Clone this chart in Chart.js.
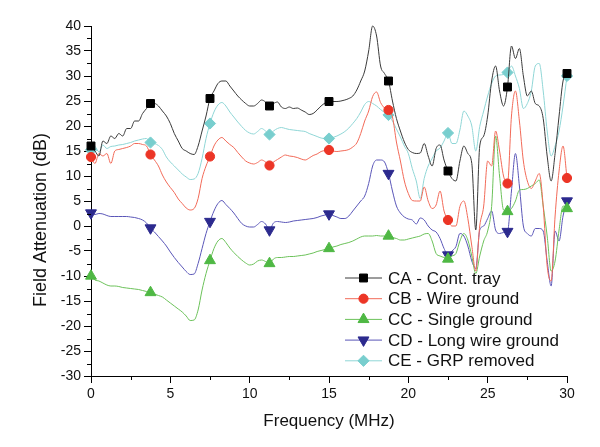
<!DOCTYPE html>
<html>
<head>
<meta charset="utf-8">
<script src="https://cdn.jsdelivr.net/npm/chart.js"></script>
<style>
  html, body { margin: 0; padding: 0; background: #fff; }
  canvas { display: block; }
</style>
</head>
<body>
<canvas id="chart" width="600" height="447"></canvas>
<script>
// frequency axis (MHz), one reading every 0.25 MHz
const freq = [
  0, 0.25, 0.5, 0.75, 1, 1.25, 1.5, 1.75, 2, 2.25,
  2.5, 2.75, 3, 3.25, 3.5, 3.75, 4, 4.25, 4.5, 4.75,
  5, 5.25, 5.5, 5.75, 6, 6.25, 6.5, 6.75, 7, 7.25,
  7.5, 7.75, 8, 8.25, 8.5, 8.75, 9, 9.25, 9.5, 9.75,
  10, 10.25, 10.5, 10.75, 11, 11.25, 11.5, 11.75, 12, 12.25,
  12.5, 12.75, 13, 13.25, 13.5, 13.75, 14, 14.25, 14.5, 14.75,
  15, 15.25, 15.5, 15.75, 16, 16.25, 16.5, 16.75, 17, 17.25,
  17.5, 17.75, 18, 18.25, 18.5, 18.75, 19, 19.25, 19.5, 19.75,
  20, 20.25, 20.5, 20.75, 21, 21.25, 21.5, 21.75, 22, 22.25,
  22.5, 22.75, 23, 23.25, 23.5, 23.75, 24, 24.25, 24.5, 24.75,
  25, 25.25, 25.5, 25.75, 26, 26.25, 26.5, 26.75, 27, 27.25,
  27.5, 27.75, 28, 28.25, 28.5, 28.75, 29, 29.25, 29.5, 29.75,
  30
];

// field attenuation (dB) per configuration
const caTray = [
  16, 15, 14, 17, 16.5, 18, 17.5, 18.5, 18, 19.5,
  19.5, 21, 21, 22.5, 23.5, 24.5, 24.5, 24, 23, 22,
  20.5, 18.5, 17, 15.5, 15, 14.5, 14.3, 16, 19, 22,
  25.5, 27, 28.5, 29, 29, 28, 27, 26, 25.2, 24.5,
  24, 24, 24.5, 25.2, 24.8, 24, 24.5, 24.8, 23.8, 23.5,
  23.8, 23.5, 23.6, 23.2, 22.8, 22.3, 22.5, 23.2, 24, 24.6,
  24.9, 24.9, 24.9, 25, 25.2, 25.5, 26, 27.2, 29, 31,
  35, 40, 38, 32, 30.5, 29, 25, 21.5, 19, 16.8,
  15.3, 14.7, 14.5, 14.6, 16.5, 14, 12, 15.5, 16.2, 13.2,
  11, 9.5, 9, 13, 16, 14.5, 12.5, -0.8, 16, 18,
  22, 29, 32, 27, 24, 27.8, 36, 33.5, 35.5, 30,
  26, 27, 24.5, 24, 21.5, 14, 9, 14.5, 22, 29,
  30.5
];
const cbWire = [
  13.8, 12.5, 14.5, 14, 14.5, 12.5, 15, 15.3, 15.5, 15.7,
  16, 16.5, 16.5, 16.3, 16, 14.3, 13.2, 12, 10.2, 8.8,
  7.7, 6.7, 5.4, 4.5, 3.6, 3.2, 3.5, 5.5, 9.5, 12,
  13.9, 16, 17.2, 17.7, 17, 16.3, 15.7, 14.7, 13.8, 13,
  12.6, 12.4, 12.7, 13.2, 12.8, 12.1, 12.8, 13.3, 13.8, 14.2,
  14, 13.9, 13.7, 13.4, 13.2, 13.6, 14.1, 14.4, 14.9, 15.1,
  15.2, 15, 14.9, 15, 15.1, 15.3, 15.8, 16.6, 18.5, 21,
  23, 25.9, 26.8, 24.7, 23.6, 23.2, 21.8, 16.8, 13, 9,
  6.5, 5.1, 5, 5, 7.8, 5, 3.5, 4.2, 7, 3,
  1.2, 0, 0, 3.9, 5, 1.5, -4, -9, 0, 4,
  13, 12, 19, 15, 10, 8.5, 22, 27, 21, 13,
  9, 7.5, 9, 10.5, 4, -8, -11, 2, 11, 16,
  9.6
];
const ccSingle = [
  -10, -10.8, -11, -11.4, -11.8, -12, -12, -12.1, -12.3, -12.4,
  -12.5, -12.6, -12.7, -12.9, -13.1, -13.3, -13.6, -13.9, -14.2, -14.8,
  -15.4, -16, -16.6, -17.2, -18, -18.9, -18.8, -16.8, -12.8, -9.5,
  -6.9, -4.5, -3, -2.5, -3.3, -4.4, -5.3, -6.1, -6.8, -7.4,
  -7.8, -7.6, -7, -6.8, -7.1, -7.5, -6.6, -6.3, -6.3, -6.2,
  -6.1, -6.1, -6, -5.9, -5.8, -5.6, -5.4, -5.1, -4.9, -4.7,
  -4.5, -4.2, -4, -3.7, -3.5, -3.3, -3, -2.6, -2.2, -2,
  -2, -2, -1.9, -2, -2, -2, -2.3, -2.5, -2.8, -2.8,
  -2.6, -2.4, -2.2, -2, -1.6, -1.5, -3, -5.5, -6, -6.3,
  -6.6, -6, -5.5, -3, -1.5, -2.8, -6, -9.5, -6, -3,
  -1, 3.9, 18, 10, 3.2, 2.9, 3.5, 5, 7.2, 7.3,
  7.5, 8, 8.5, 9.2, 4, -2, -9, -7, -0.8, 4,
  3.5
];
const cdLongWire = [
  2.6, 2.3, 2.5, 2.4, 2.1, 1.9, 1.9, 1.9, 1.9, 1.9,
  1.8, 1.7, 1.5, 1.2, 0.6, -0.4, -1.2, -2.1, -3, -4,
  -5.2, -6.3, -7.3, -8.2, -9.1, -9.7, -9.6, -7.5, -4.5, -1.5,
  0.9, 3, 4.5, 5.1, 4.3, 3.5, 2.6, 1.5, 0.5, 0,
  -0.2, -0.2, 0.3, 0.9, 0.4, -0.8, 0.6, 0.9, 0.8, 0.7,
  0.8, 1, 1.1, 1.2, 1.3, 1.4, 1.5, 1.7, 2, 2.2,
  2.4, 2.1, 1.8, 1.5, 1.5, 2, 3, 4, 5, 6,
  8.5, 12, 13.2, 13.2, 12.8, 10.5, 7, 4, 2.6, 1.8,
  1.4, 1.2, 0.4, 1.6, 1.2, 0, -0.8, -1.2, -2.5, -4.5,
  -5.8, -5, -4.1, -1.5, -2, -4, -7, -8.5, -0.8, 0,
  1.5, 3, -0.8, -1.5, -1.3, -1.1, 7, 14.5, 8, 0,
  -1.5, -2, -0.5, -0.5, -1, -7, -12, -1, -3, 2,
  5
];
const ceGrpRemoved = [
  15.2, 15.9, 14.8, 16.2, 15.5, 15.9, 16, 16.2, 16.3, 16.5,
  16.7, 17, 17.2, 17.4, 17.5, 16.7, 16.5, 16.1, 15.3, 13.8,
  12.8, 12, 11.2, 10.4, 9.8, 9.3, 9.4, 10.5, 13.5, 17.5,
  20.5, 22.8, 24.2, 24.7, 24, 22.8, 21.8, 20.8, 19.9, 19.1,
  18.6, 18.4, 18.9, 19.5, 19, 18.3, 19, 19.5, 19.7, 19.5,
  19.3, 19.2, 19.1, 19, 18.9, 18.5, 18.2, 17.9, 17.6, 17.5,
  17.5, 17.7, 18, 18.4, 18.9, 19.6, 20.5, 21.5, 22.8, 24.3,
  24.9, 24.5, 24, 23.3, 22.7, 22.2, 21, 19.4, 17.8, 16,
  14.5, 11.5, 9, 5.5, 9.5, 12, 13.5, 15, 15.6, 17,
  18.6, 16.5, 16.5, 19.2, 23, 22, 20, 15, 19.9, 23,
  26, 28.5, 30, 30.2, 30.3, 30.7, 32, 30, 27.5, 23.5,
  24.5, 27, 32, 32.5, 27, 19, 14, 16, 19, 24,
  30
];

const seriesNames = ['CA - Cont. tray', 'CB - Wire ground', 'CC - Single ground', 'CD - Long wire ground', 'CE - GRP removed'];

const FONT = '"Liberation Sans", Arial, sans-serif';
Chart.defaults.font.family = FONT;
Chart.defaults.color = '#111';

function series(label, values, lineColor, markColor, style, radius, rotation) {
  return {
    label: label,
    data: freq.map((f, i) => ({ x: f, y: values[i] })),
    borderColor: lineColor,
    borderWidth: 1,
    backgroundColor: markColor,
    pointBackgroundColor: markColor,
    pointBorderColor: markColor,
    pointBorderWidth: 1,
    pointStyle: style,
    pointRotation: rotation || 0,
    // a symbol on every 15th reading, like the original plot
    pointRadius: c => (c.dataIndex % 15 === 0 ? radius : 0),
    pointHoverRadius: 0,
    markRadius: radius,
    cubicInterpolationMode: 'monotone',
    clip: false
  };
}

// minor ticks halfway between the labelled ones
const minorTicks = {
  id: 'minorTicks',
  afterDraw(chart) {
    const c = chart.ctx;
    const xs = chart.scales.x, ys = chart.scales.y;
    c.save();
    c.strokeStyle = '#000';
    c.lineWidth = 1;
    c.beginPath();
    for (let v = 2.5; v < 30; v += 5) {
      const px = Math.round(xs.getPixelForValue(v)) + 0.5;
      c.moveTo(px, ys.bottom);
      c.lineTo(px, ys.bottom + 4);
    }
    for (let v = -27.5; v < 40; v += 5) {
      const py = Math.round(ys.getPixelForValue(v)) + 0.5;
      c.moveTo(xs.left, py);
      c.lineTo(xs.left - 4, py);
    }
    c.stroke();
    c.restore();
  }
};

// axis titles placed like the original
const axisTitles = {
  id: 'axisTitles',
  afterDraw(chart) {
    const c = chart.ctx;
    c.save();
    c.fillStyle = '#111';
    c.textAlign = 'center';
    c.textBaseline = 'middle';
    c.font = '17px ' + FONT;
    c.fillText('Frequency (MHz)', 329, 421);
    c.translate(41, 220);
    c.rotate(-Math.PI / 2);
    c.font = '18px ' + FONT;
    c.fillText('Field Attenuation (dB)', 0, 0);
    c.restore();
  }
};

// legend with line sample + symbol
const seriesKey = {
  id: 'seriesKey',
  afterDraw(chart) {
    const c = chart.ctx;
    chart.data.datasets.forEach((ds, i) => {
      const y = 278 + i * 20.7;
      c.save();
      c.strokeStyle = ds.borderColor;
      c.lineWidth = 1;
      c.beginPath();
      c.moveTo(345, y);
      c.lineTo(382, y);
      c.stroke();
      c.fillStyle = ds.pointBackgroundColor;
      c.strokeStyle = ds.pointBorderColor;
      Chart.helpers.drawPoint(c, {
        pointStyle: ds.pointStyle,
        rotation: ds.pointRotation,
        radius: ds.markRadius,
        borderWidth: 1
      }, 363.5, y);
      c.fillStyle = '#111';
      c.font = '17px ' + FONT;
      c.textAlign = 'left';
      c.textBaseline = 'middle';
      c.fillText(ds.label, 388, y + 1);
      c.restore();
    });
  }
};

new Chart(document.getElementById('chart'), {
  type: 'line',
  data: {
    datasets: [
      series(seriesNames[0], caTray, '#3a3a3a', '#000000', 'rect', 5.6),
      series(seriesNames[1], cbWire, '#f26a58', '#ec3526', 'circle', 4.6),
      series(seriesNames[2], ccSingle, '#6cc25a', '#4fb844', 'triangle', 6.3),
      series(seriesNames[3], cdLongWire, '#5a56b8', '#2c2a8e', 'triangle', 6.3, 180),
      series(seriesNames[4], ceGrpRemoved, '#8fd6d6', '#78cece', 'rectRot', 5.6)
    ]
  },
  options: {
    responsive: false,
    animation: false,
    layout: { padding: { top: 26, right: 33, left: 0, bottom: 0 } },
    plugins: { legend: { display: false }, tooltip: { enabled: false } },
    scales: {
      x: {
        type: 'linear',
        min: 0, max: 30,
        border: { display: true, color: '#000', width: 1 },
        grid: { drawOnChartArea: false, tickLength: 7, tickColor: '#000' },
        ticks: { stepSize: 5, padding: 3, font: { size: 14 }, color: '#111', maxRotation: 0 },
        afterFit: s => { s.height = 71; }
      },
      y: {
        type: 'linear',
        min: -30, max: 40,
        border: { display: true, color: '#000', width: 1 },
        grid: { drawOnChartArea: false, tickLength: 7, tickColor: '#000' },
        ticks: { stepSize: 5, padding: 3, font: { size: 14 }, color: '#111' },
        afterFit: s => { s.width = 91; }
      }
    }
  },
  plugins: [minorTicks, axisTitles, seriesKey]
});
</script>
</body>
</html>
